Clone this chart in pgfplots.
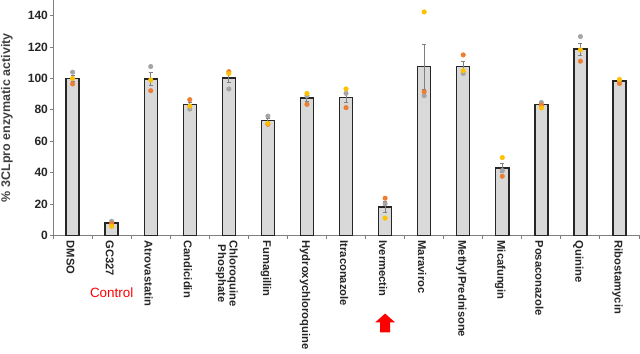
\documentclass[border=0pt]{standalone}
\usepackage{pgfplots}
\pgfplotsset{compat=1.18}
\usepackage{fontspec}
\setmainfont{Liberation Sans}
\definecolor{barfill}{HTML}{D9D9D9}
\definecolor{barline}{HTML}{262626}
\definecolor{ptgray}{HTML}{A5A5A5}
\definecolor{ptorange}{HTML}{ED7D31}
\definecolor{ptyellow}{HTML}{FFC000}
\definecolor{axisgray}{HTML}{7F7F7F}
\definecolor{lblgray}{HTML}{404040}
\begin{document}
\begin{tikzpicture}
\begin{axis}[
  scale only axis, width=585pt, height=235pt,
  xmin=-0.5, xmax=14.5, ymin=0, ymax=150,
  axis x line=bottom, axis y line=left,
  axis line style={-, draw=axisgray, line width=0.9pt},
  clip=false,
  xtick={0,...,14},
  xticklabels={DMSO,GC327,Atrovastatin,Candicidin,{Chloroquine\\Phosphate},Fumagillin,Hydroxychloroquine,Itraconazole,Ivermectin,Maraviroc,MethylPrednisone,Micafungin,Posaconazole,Quinine,Ribostamycin},
  major x tick style={draw=none},
  minor xtick={-0.5,0.5,...,14.5},
  minor x tick style={draw=axisgray, line width=0.9pt},
  minor tick length=4pt,
  tick align=outside,
  ytick={0,20,...,140},
  major y tick style={draw=axisgray, line width=0.9pt},
  major tick length=3pt,
  xticklabel style={rotate=-90, anchor=west, align=center, font=\bfseries\fontsize{11.2}{11.5}\selectfont, text=barline, inner sep=2pt, yshift=-2pt},
  yticklabel style={font=\bfseries\fontsize{12}{12}\selectfont, text=barline, inner sep=2pt},
  /pgf/number format/assume math mode=true,
  ylabel={\% 3CLpro enzymatic activity},
  ylabel style={at={(axis description cs:0,0.5)}, anchor=south, yshift=40pt, font=\bfseries\fontsize{12.5}{13}\selectfont, text=lblgray, inner sep=0pt},
]
\coordinate (bl) at (rel axis cs:0,0);
\coordinate (tr) at (rel axis cs:1,1);
\addplot[ybar, bar width=13pt, fill=barfill, draw=barline, line width=1.4pt,
  error bars/.cd, y dir=both, y explicit,
  error bar style={draw=axisgray, line width=1pt},
  error mark options={rotate=90, draw=axisgray, mark size=2pt, line width=0.8pt}]
  coordinates {
  (0,100) +- (0,2)
  (1,7.8) +- (0,1.2)
  (2,99.6) +- (0,4)
  (3,83.3) +- (0,1.5)
  (4,100.3) +- (0,3)
  (5,73.2) +- (0,1.5)
  (6,87.6) +- (0,2)
  (7,87.9) +- (0,3)
  (8,18.2) +- (0,3.3)
  (9,107.6) +- (0,14.3)
  (10,107.6) +- (0,3.2)
  (11,43) +- (0,2.7)
  (12,83.3) +- (0,1)
  (13,118.7) +- (0,3.8)
  (14,98.3) +- (0,0.8)
  };
\addplot[only marks, mark=*, mark size=2.3pt, color=ptgray] coordinates {
  (0,104) (1,9) (2,107.6) (3,80.5) (4,93.3) (5,76) (6,89) (7,90.5) (8,20.1) (9,89) (10,103.2) (11,41.3) (12,84.7) (13,126.7) (14,98)
};
\addplot[only marks, mark=*, mark size=2.3pt, color=ptorange] coordinates {
  (0,96.5) (1,7.5) (2,92.2) (3,86.5) (4,104.3) (5,70.8) (6,83.5) (7,81.4) (8,23.7) (9,91.5) (10,115) (11,37.7) (12,83) (13,111) (14,96.8)
};
\addplot[only marks, mark=*, mark size=2.3pt, color=ptyellow] coordinates {
  (0,100) (1,5.8) (2,99) (3,82.4) (4,103.2) (5,71.4) (6,90.5) (7,93.3) (8,11) (9,142.4) (10,104.9) (11,49.6) (12,81.2) (13,118.2) (14,99.4)
};
\node[text=red, font=\fontsize{13.4}{14}\selectfont] at (axis cs:1,-36.4) {Control};
\fill[red] (axis cs:8,-49.8) -- (axis cs:8.256,-55.5) -- (axis cs:8.128,-55.5) -- (axis cs:8.128,-61.9)
  -- (axis cs:7.872,-61.9) -- (axis cs:7.872,-55.5) -- (axis cs:7.744,-55.5) -- cycle;
\end{axis}
\pgfresetboundingbox
\path ([xshift=-53pt,yshift=-118pt]bl) rectangle ([xshift=1pt]tr);
\end{tikzpicture}
\end{document}
